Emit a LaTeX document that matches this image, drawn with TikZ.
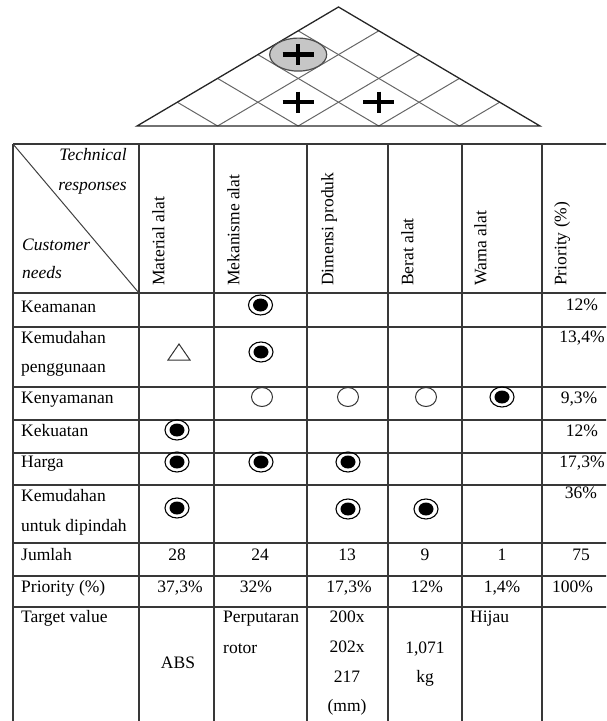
\documentclass[tikz,border=0pt]{standalone}
\usepackage{fontspec}
\setmainfont{Liberation Serif}
\usetikzlibrary{calc,shapes.geometric}
\begin{document}
\begin{tikzpicture}[x=1pt,y=-1pt,
  every node/.style={inner sep=0pt, font=\fontsize{17.5}{21}\selectfont},
  gridline/.style={draw=black!78, line width=1.4pt},
  roofout/.style={draw=black!85, line width=1.3pt},
  roofin/.style={draw=black!60, line width=1pt},
  lbl/.style={anchor=base west},
  ctr/.style={anchor=base},
  rot/.style={rotate=90, anchor=north west},
  itl/.style={font=\fontsize{17.5}{21}\selectfont\itshape},
  strongsym/.style={ellipse, draw=black, line width=1.1pt, minimum width=24pt, minimum height=20pt,
    path picture={\fill[black] (path picture bounding box.center) ellipse [x radius=7.5pt, y radius=6.5pt];}},
  weaksym/.style={ellipse, draw=black!80, line width=1pt, minimum width=21pt, minimum height=19pt},
  trisym/.style={draw=black!80, line width=1pt},
  plusline/.style={line width=4.5pt, black},
  corrsym/.style={ellipse, draw=black!70, line width=1.2pt, fill=gray!45, minimum width=57pt, minimum height=33pt}
]
\useasboundingbox (0,0) rectangle (606,721);
\clip (0,0) rectangle (606,721);

% ---------- roof ----------
\coordinate (A) at (338.5,7);
\coordinate (B0) at (137,126);
\coordinate (B5) at (540,126);
\foreach \k in {1,...,4} {
  \coordinate (B\k) at ($(B0)!\k/5!(B5)$);
}
\foreach \k in {1,...,4} {
  \draw[roofin] (B\k) -- ($(B5)!{(5-\k)/5}!(A)$);
  \draw[roofin] (B\k) -- ($(B0)!{\k/5}!(A)$);
}
\draw[roofout] (B0) -- (A) -- (B5) -- cycle;

\node[corrsym] (corr) at (298.2,54.6) {};
\coordinate (p0) at (298.2,54.6);
\coordinate (p1) at (298.2,102.2);
\coordinate (p2) at (378.8,102.2);
\foreach \p in {p0,p1,p2} {
  \draw[plusline] ($(\p)+(-15.5,0)$) -- ($(\p)+(15.5,0)$);
  \draw[plusline] ($(\p)+(0,-10.5)$) -- ($(\p)+(0,10.5)$);
}

% ---------- table grid ----------
\foreach \y in {144,293,327,387,420,453,485,543,576,607} {
  \draw[gridline] (13,\y) -- (630,\y);
}
\foreach \x in {13,139,214,307,388,462,542} {
  \draw[gridline] (\x,144) -- (\x,730);
}
\draw[draw=black!75, line width=1pt] (13,144) -- (139,293);

% ---------- header ----------
\node[itl, anchor=base east] (tr1) at (127,160) {Technical};
\node[itl, anchor=base east] (tr2) at (127,190) {responses};
\node[itl, anchor=base west] (cn1) at (22,250) {Customer};
\node[itl, anchor=base west] (cn2) at (22,278) {needs};

\node[rot] (h1) at (152,286) {Material alat};
\node[rot] (h2) at (227,286) {Mekanisme alat};
\node[rot] (h3) at (321,286) {Dimensi produk};
\node[rot] (h4) at (401,286) {Berat alat};
\node[rot] (h5) at (474,286) {Warna alat};
\node[rot] (h6) at (554,286) {Priority (\%)};

% ---------- row labels ----------
\node[lbl] (r1) at (21,312) {Keamanan};
\node[lbl] (r2a) at (21,343) {Kemudahan};
\node[lbl] (r2b) at (21,372) {penggunaan};
\node[lbl] (r3) at (21,403) {Kenyamanan};
\node[lbl] (r4) at (21,436) {Kekuatan};
\node[lbl] (r5) at (21,467) {Harga};
\node[lbl] (r6a) at (21,501) {Kemudahan};
\node[lbl] (r6b) at (21,531) {untuk dipindah};
\node[lbl] (r7) at (21,560) {Jumlah};
\node[lbl] (r8) at (21,592) {Priority (\%)};
\node[lbl] (r9) at (21,622) {Target value};

% ---------- priority column ----------
\node[ctr] (pr1) at (582,310) {12\%};
\node[ctr] (pr2) at (582,342) {13,4\%};
\node[ctr] (pr3) at (579,403) {9,3\%};
\node[ctr] (pr4) at (582,436) {12\%};
\node[ctr] (pr5) at (582,467) {17,3\%};
\node[ctr] (pr6) at (581,498) {36\%};
\node[ctr] (pr7) at (581,560) {75};
\node[lbl] (pr8) at (552,592) {100\%};

% ---------- symbols ----------
\node[strongsym] (s11) at (260.5,305) {};
\node[strongsym] (s21) at (261,352) {};
\coordinate (tri) at (179,352);
\draw[trisym] ($(tri)+(-11,8)$) -- ($(tri)+(11,8)$) -- ($(tri)+(0,-8)$) -- cycle;
\node[weaksym] (w31) at (262,397) {};
\node[weaksym] (w32) at (348,397) {};
\node[weaksym] (w33) at (426,397) {};
\node[strongsym] (s31) at (502,397) {};
\node[strongsym] (s41) at (177,430) {};
\node[strongsym] (s51) at (177,462) {};
\node[strongsym] (s52) at (261,462) {};
\node[strongsym] (s53) at (348,462) {};
\node[strongsym] (s61) at (177,508) {};
\node[strongsym] (s62) at (348,509) {};
\node[strongsym] (s63) at (426,509) {};

% ---------- Jumlah ----------
\node[ctr] (j1) at (177,560) {28};
\node[ctr] (j2) at (260,560) {24};
\node[ctr] (j3) at (347,560) {13};
\node[ctr] (j4) at (425,560) {9};
\node[ctr] (j5) at (502,560) {1};

% ---------- Priority row ----------
\node[ctr] (q1) at (180,592) {37,3\%};
\node[ctr] (q2) at (256,592) {32\%};
\node[ctr] (q3) at (349,592) {17,3\%};
\node[ctr] (q4) at (427,592) {12\%};
\node[ctr] (q5) at (502,592) {1,4\%};

% ---------- Target value ----------
\node[ctr] (t1) at (178,668) {ABS};
\node[lbl] (t2a) at (223,622) {Perputaran};
\node[lbl] (t2b) at (223,653) {rotor};
\node[ctr] (t3a) at (347,622) {200x};
\node[ctr] (t3b) at (347,652) {202x};
\node[ctr] (t3c) at (347,682) {217};
\node[ctr] (t3d) at (347,711) {(mm)};
\node[ctr] (t4a) at (425,653) {1,071};
\node[ctr] (t4b) at (425,682) {kg};
\node[lbl] (t5) at (470,622) {Hijau};
\end{tikzpicture}
\end{document}
